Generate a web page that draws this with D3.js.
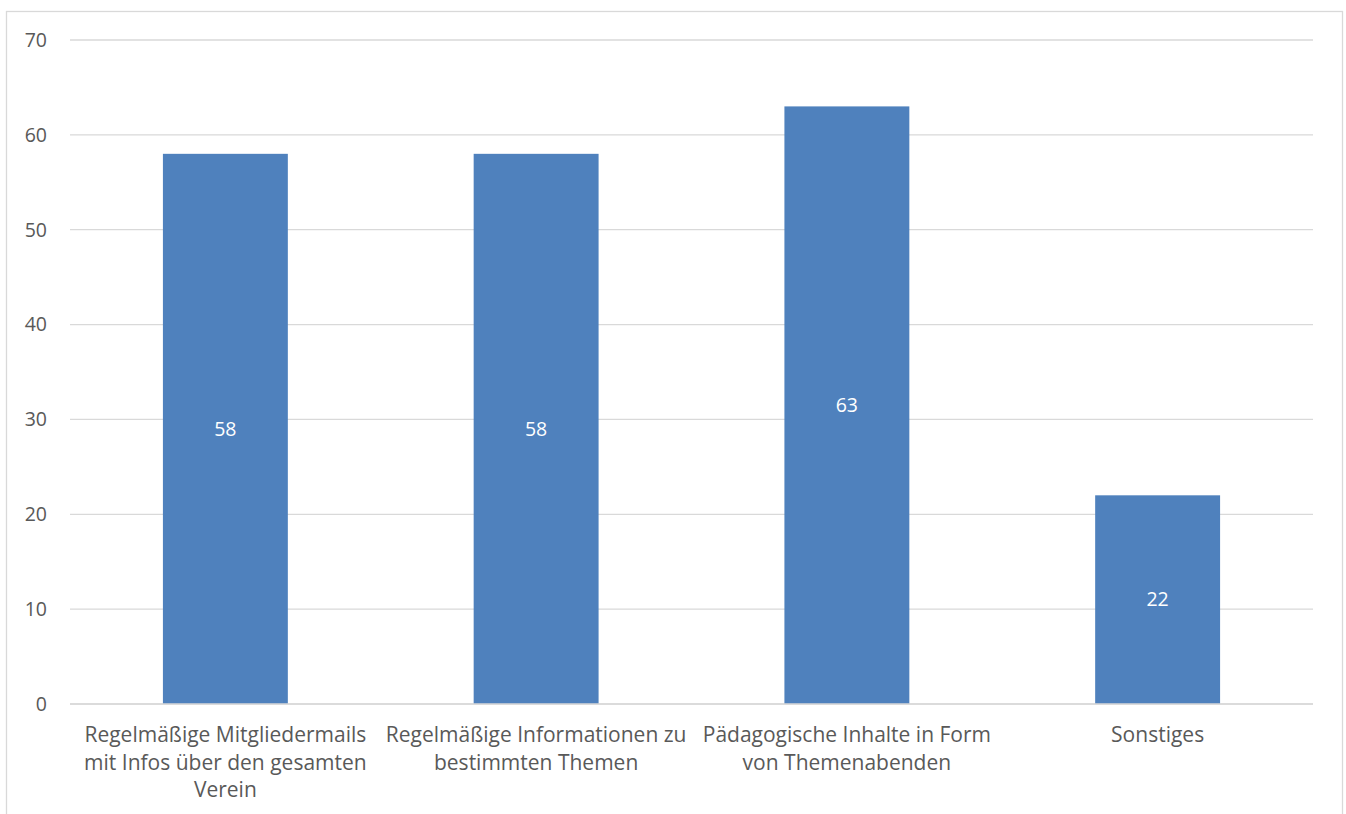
<!DOCTYPE html>
<html>
<head>
<meta charset="utf-8">
<script src="https://cdn.jsdelivr.net/npm/d3@7/dist/d3.min.js"></script>
<style>
  html, body { margin: 0; padding: 0; background: #fff; }
  svg { display: block; }
  text { font-family: "Open Sans", "Liberation Sans", sans-serif; }
</style>
</head>
<body>
<svg id="chart" width="1346" height="814"></svg>
<script>
const categories = [
  "Regelmäßige Mitgliedermails\nmit Infos über den gesamten\nVerein",
  "Regelmäßige Informationen zu\nbestimmten Themen",
  "Pädagogische Inhalte in Form\nvon Themenabenden",
  "Sonstiges"
];
const values = [58, 58, 63, 22];
const yTicks = [0, 10, 20, 30, 40, 50, 60, 70];

const svg = d3.select("#chart");
const plot = { left: 70, right: 1313, top: 40, bottom: 704 };

// chart border
svg.append("rect")
  .attr("x", 6.5).attr("y", 11.5)
  .attr("width", 1336).attr("height", 820)
  .attr("fill", "#fff").attr("stroke", "#d9d9d9").attr("stroke-width", 1.3);

const x = d3.scaleBand().domain(categories).range([plot.left, plot.right]).padding(0);
const y = d3.scaleLinear().domain([0, 70]).range([plot.bottom, plot.top]);

// gridlines
svg.append("g").selectAll("line").data(yTicks).join("line")
  .attr("x1", plot.left).attr("x2", plot.right)
  .attr("y1", d => y(d)).attr("y2", d => y(d))
  .attr("stroke", "#d9d9d9").attr("stroke-width", 1.3);

// y tick labels
svg.append("g").selectAll("text").data(yTicks).join("text")
  .attr("x", 47).attr("y", d => y(d))
  .attr("dy", "0.35em")
  .attr("text-anchor", "end")
  .attr("font-size", 19.5)
  .attr("fill", "#595959")
  .text(d => d);

const barW = x.bandwidth() * 0.402;

// bars
svg.append("g").selectAll("rect").data(values).join("rect")
  .attr("x", (d, i) => x(categories[i]) + x.bandwidth() / 2 - barW / 2)
  .attr("y", d => y(d))
  .attr("width", barW)
  .attr("height", d => y(0) - y(d))
  .attr("fill", "#4f81bd");

// baseline over bars
svg.append("line")
  .attr("x1", plot.left).attr("x2", plot.right)
  .attr("y1", y(0)).attr("y2", y(0))
  .attr("stroke", "#d9d9d9").attr("stroke-width", 1.3);

// data labels
svg.append("g").selectAll("text").data(values).join("text")
  .attr("x", (d, i) => x(categories[i]) + x.bandwidth() / 2)
  .attr("y", d => (y(d) + y(0)) / 2)
  .attr("dy", "0.35em")
  .attr("text-anchor", "middle")
  .attr("font-size", 19.5)
  .attr("fill", "#ffffff")
  .text(d => d);

// category labels
const catG = svg.append("g");
categories.forEach(c => {
  const cx = x(c) + x.bandwidth() / 2;
  const t = catG.append("text")
    .attr("x", cx)
    .attr("y", 742)
    .attr("text-anchor", "middle")
    .attr("font-size", 21)
    .attr("fill", "#595959");
  c.split("\n").forEach((line, i) => {
    t.append("tspan")
      .attr("x", cx)
      .attr("dy", i === 0 ? 0 : 27.5)
      .text(line);
  });
});
</script>
</body>
</html>
